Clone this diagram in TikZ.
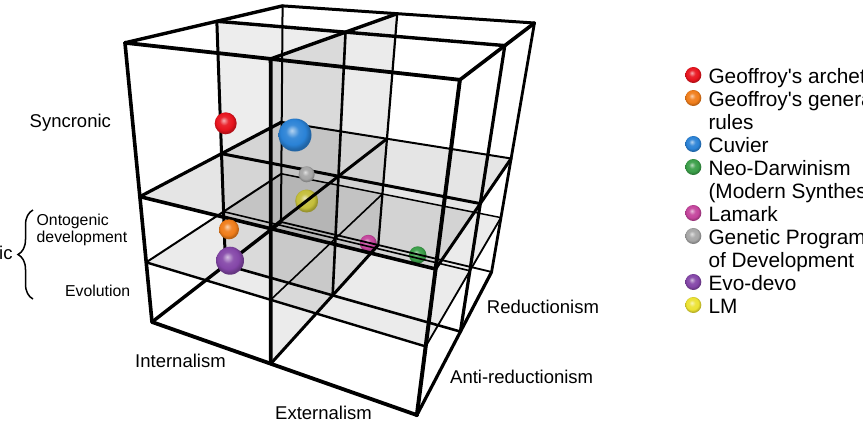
\documentclass[tikz,border=0pt]{standalone}
\usepackage{fontspec}
\setmainfont{Liberation Sans}
\usetikzlibrary{decorations.pathreplacing}
\definecolor{cred}{HTML}{E8141E}
\definecolor{corange}{HTML}{F07D1A}
\definecolor{cblue}{HTML}{2A82D6}
\definecolor{cgreen}{HTML}{3A9E48}
\definecolor{cmag}{HTML}{C4449C}
\definecolor{cgray}{HTML}{A6A6A6}
\definecolor{cpurple}{HTML}{8446A8}
\definecolor{cyellow}{HTML}{ECE232}
\definecolor{colive}{HTML}{C4BE3A}
\makeatletter
\pgfdeclareradialshading[tikz@ball]{softball}{\pgfqpoint{-5bp}{7bp}}{color(0bp)=(tikz@ball!35!white); color(10bp)=(tikz@ball!92!white); color(19bp)=(tikz@ball); color(25bp)=(tikz@ball!78!black); color(50bp)=(tikz@ball!60!black)}
\makeatother
\tikzset{softball/.style={ball color=#1, shading=softball}}
\begin{document}
\begin{tikzpicture}[x=1pt,y=-1pt,
  ln/.style={line width=#1pt, line cap=round, line join=round, draw=black},
  plane/.style={fill=black, fill opacity=#1},
  lbl/.style={font=\fontsize{18.5}{22}\selectfont, inner sep=0pt},
  sml/.style={font=\fontsize{15.8}{18}\selectfont, inner sep=0pt},
  lg/.style={font=\fontsize{20.8}{23}\selectfont, inner sep=0pt, anchor=base west}]
\path[use as bounding box] (0,0) rectangle (863,424);
\clip (0,0) rectangle (863,424);

% perspective grid points p<i><j><k>: u=i/2, v=j/2, w in {0,.25,.5,1}
\foreach \i/\u in {0/0,1/0.5,2/1}{
 \foreach \j/\v in {0/0,1/0.5,2/1}{
  \foreach \k/\w in {0/0,1/0.25,2/0.5,3/1}{
    \pgfmathsetmacro\dn{1-0.1876*\u+0.324*\v-0.185*\w}
    \pgfmathsetmacro\px{(152+186.66*\u+220.0*\v-50.14*\w)/\dn}
    \pgfmathsetmacro\py{(322+15.20*\u-28.19*\v-287.12*\w)/\dn}
    \coordinate (p\i\j\k) at (\px,\py);
  }}}

% translucent planes
\path[plane=0.07] (p010)--(p110)--(p113)--(p013)--cycle;
\path[plane=0.08] (p100)--(p120)--(p123)--(p103)--cycle;
\path[plane=0.08] (p001)--(p201)--(p221)--(p021)--cycle;
\path[plane=0.10] (p002)--(p202)--(p222)--(p022)--cycle;

% balls behind
\shade[softball=colive] (306.7,201) circle (11.5pt);
\shade[softball=cmag] (368.3,243.3) circle (8.5pt);
\shade[softball=cgreen] (417.7,255) circle (8.7pt);

% level w=0.25 (thin)
\draw[ln=1.5] (p021)--(p221);
\draw[ln=1.6] (p011)--(p211);
\draw[ln=2.4] (p001)--(p201);
\draw[ln=2.0] (p001)--(p021);
\draw[ln=1.6] (p101)--(p121);
\draw[ln=1.8] (p201)--(p221);
% level w=0
\draw[ln=1.8] (p020)--(p220);
\draw[ln=2.6] (p010)--(p210);
\draw[ln=3.8] (p000)--(p200);
\draw[ln=3.4] (p000)--(p020);
\draw[ln=3.0] (p100)--(p120);
\draw[ln=3.2] (p200)--(p220);
% level w=0.5
\draw[ln=2.0] (p022)--(p222);
\draw[ln=3.0] (p012)--(p212);
\draw[ln=3.6] (p002)--(p202);
\draw[ln=3.2] (p002)--(p022);
\draw[ln=3.0] (p102)--(p122);
\draw[ln=3.0] (p202)--(p222);
% verticals
\draw[ln=2.0] (p020)--(p023);
\draw[ln=2.2] (p120)--(p123);
\draw[ln=2.8] (p220)--(p223);
\draw[ln=3.0] (p010)--(p013);
\draw[ln=2.6] (p110)--(p113);
\draw[ln=3.2] (p210)--(p213);
\draw[ln=3.6] (p000)--(p003);
\draw[ln=3.8] (p100)--(p103);
\draw[ln=4.0] (p200)--(p203);
% level w=1 (top)
\draw[ln=3.0] (p023)--(p223);
\draw[ln=3.4] (p013)--(p213);
\draw[ln=3.8] (p003)--(p203);
\draw[ln=3.4] (p003)--(p023);
\draw[ln=3.4] (p103)--(p123);
\draw[ln=3.6] (p203)--(p223);

% balls in front
\shade[softball=cgray] (306.7,174.3) circle (8pt);
\shade[softball=cred] (225.7,123.3) circle (11pt);
\shade[softball=cblue] (295,135) circle (16.5pt);
\shade[softball=corange] (229,229.3) circle (10pt);
\shade[softball=cpurple] (230,260.7) circle (14pt);

% axis labels
\node[lbl, anchor=base west] (sync) at (29.5,127.3) {Syncronic};
\node[lbl, anchor=base east] (diac) at (12.8,259.5) {Diachronic};
\draw[decorate, decoration={brace, amplitude=15pt, aspect=0.5}, line width=1.5pt] (33,299) -- (33,210);
\node[sml, anchor=base west] (onto) at (36.5,225) {Ontogenic};
\node[sml, anchor=base west] (devel) at (36.5,242) {development};
\node[sml, anchor=base west] (evol) at (65,296) {Evolution};
\node[lbl, anchor=base west] (intern) at (135,367) {Internalism};
\node[lbl, anchor=base west] (extern) at (275,419.3) {Externalism};
\node[lbl, anchor=base west] (reduc) at (486.7,313.3) {Reductionism};
\node[lbl, anchor=base west] (antired) at (450,383.3) {Anti-reductionism};

% legend
\shade[softball=cred] (693.3,75) circle (8pt);
\node[lg] (lg1) at (708.3,83) {Geoffroy\textquotesingle s archetype};
\shade[softball=corange] (693.3,98) circle (8pt);
\node[lg] (lg2) at (708.3,106) {Geoffroy\textquotesingle s general};
\node[lg] (lg2b) at (708.3,129) {rules};
\shade[softball=cblue] (693.3,144) circle (8pt);
\node[lg] (lg3) at (708.3,152) {Cuvier};
\shade[softball=cgreen] (693.3,167) circle (8pt);
\node[lg] (lg4) at (708.3,175) {Neo-Darwinism};
\node[lg] (lg4b) at (708.3,198) {(Modern Synthesis)};
\shade[softball=cmag] (693.3,213) circle (8pt);
\node[lg] (lg5) at (708.3,221) {Lamark};
\shade[softball=cgray] (693.3,236) circle (8pt);
\node[lg] (lg6) at (708.3,244) {Genetic Program};
\node[lg] (lg6b) at (708.3,267) {of Development};
\shade[softball=cpurple] (693.3,282) circle (8pt);
\node[lg] (lg7) at (708.3,290) {Evo-devo};
\shade[softball=cyellow] (693.3,305) circle (8pt);
\node[lg] (lg8) at (708.3,313) {LM};
\end{tikzpicture}
\end{document}
